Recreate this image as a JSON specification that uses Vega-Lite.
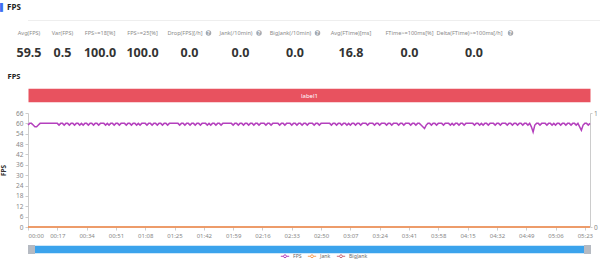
{
"$schema": "https://vega.github.io/schema/vega-lite/v6.json",
"background": "white",
"padding": {"top": 3, "left": 0, "right": 0, "bottom": 0},
"config": {"view": {"stroke": null}, "font": "Noto Sans", "concat": {"spacing": 0}},
"datasets": {
"stats": [
{"label": "Avg(FPS)", "value": 59.5},
{"label": "Var(FPS)", "value": 0.5},
{"label": "FPS>=18[%]", "value": 100.0},
{"label": "FPS>=25[%]", "value": 100.0},
{"label": "Drop(FPS)[/h]", "value": 0.0},
{"label": "Jank(/10min)", "value": 0.0},
{"label": "BigJank(/10min)", "value": 0.0},
{"label": "Avg(FTime)[ms]", "value": 16.8},
{"label": "FTime>=100ms[%]", "value": 0.0},
{"label": "Delta(FTime)>=100ms[/h]", "value": 0.0}
],
"jank": [
{"t": 0, "series": "BigJank", "v": 0},
{"t": 326, "series": "BigJank", "v": 0},
{"t": 0, "series": "Jank", "v": 0},
{"t": 326, "series": "Jank", "v": 0}
],
"fps": [
{"t":0,"fps":59},{"t":1,"fps":60},{"t":2,"fps":60},{"t":3,"fps":59},{"t":4,"fps":58},{"t":5,"fps":58},{"t":6,"fps":59},{"t":7,"fps":60},{"t":8,"fps":60},{"t":9,"fps":60},
{"t":10,"fps":60},{"t":11,"fps":60},{"t":12,"fps":60},{"t":13,"fps":60},{"t":14,"fps":60},{"t":15,"fps":60},{"t":16,"fps":60},{"t":17,"fps":60},{"t":18,"fps":59},{"t":19,"fps":60},
{"t":20,"fps":60},{"t":21,"fps":59},{"t":22,"fps":60},{"t":23,"fps":60},{"t":24,"fps":59},{"t":25,"fps":60},{"t":26,"fps":60},{"t":27,"fps":59},{"t":28,"fps":60},{"t":29,"fps":60},
{"t":30,"fps":59},{"t":31,"fps":60},{"t":32,"fps":59},{"t":33,"fps":60},{"t":34,"fps":60},{"t":35,"fps":59},{"t":36,"fps":60},{"t":37,"fps":60},{"t":38,"fps":59},{"t":39,"fps":60},
{"t":40,"fps":60},{"t":41,"fps":59},{"t":42,"fps":60},{"t":43,"fps":60},{"t":44,"fps":60},{"t":45,"fps":59},{"t":46,"fps":60},{"t":47,"fps":59},{"t":48,"fps":60},{"t":49,"fps":60},
{"t":50,"fps":59},{"t":51,"fps":60},{"t":52,"fps":60},{"t":53,"fps":59},{"t":54,"fps":60},{"t":55,"fps":60},{"t":56,"fps":60},{"t":57,"fps":59},{"t":58,"fps":60},{"t":59,"fps":60},
{"t":60,"fps":59},{"t":61,"fps":60},{"t":62,"fps":60},{"t":63,"fps":59},{"t":64,"fps":60},{"t":65,"fps":59},{"t":66,"fps":60},{"t":67,"fps":60},{"t":68,"fps":60},{"t":69,"fps":59},
{"t":70,"fps":60},{"t":71,"fps":60},{"t":72,"fps":59},{"t":73,"fps":60},{"t":74,"fps":60},{"t":75,"fps":59},{"t":76,"fps":60},{"t":77,"fps":60},{"t":78,"fps":59},{"t":79,"fps":60},
{"t":80,"fps":60},{"t":81,"fps":59},{"t":82,"fps":60},{"t":83,"fps":60},{"t":84,"fps":60},{"t":85,"fps":60},{"t":86,"fps":60},{"t":87,"fps":60},{"t":88,"fps":59},{"t":89,"fps":60},
{"t":90,"fps":60},{"t":91,"fps":59},{"t":92,"fps":60},{"t":93,"fps":60},{"t":94,"fps":59},{"t":95,"fps":60},{"t":96,"fps":60},{"t":97,"fps":59},{"t":98,"fps":60},{"t":99,"fps":60},
{"t":100,"fps":59},{"t":101,"fps":60},{"t":102,"fps":60},{"t":103,"fps":60},{"t":104,"fps":59},{"t":105,"fps":60},{"t":106,"fps":59},{"t":107,"fps":60},{"t":108,"fps":60},{"t":109,"fps":59},
{"t":110,"fps":60},{"t":111,"fps":60},{"t":112,"fps":59},{"t":113,"fps":60},{"t":114,"fps":60},{"t":115,"fps":60},{"t":116,"fps":60},{"t":117,"fps":60},{"t":118,"fps":60},{"t":119,"fps":59},
{"t":120,"fps":60},{"t":121,"fps":60},{"t":122,"fps":59},{"t":123,"fps":60},{"t":124,"fps":60},{"t":125,"fps":59},{"t":126,"fps":60},{"t":127,"fps":60},{"t":128,"fps":59},{"t":129,"fps":60},
{"t":130,"fps":60},{"t":131,"fps":59},{"t":132,"fps":60},{"t":133,"fps":60},{"t":134,"fps":59},{"t":135,"fps":60},{"t":136,"fps":60},{"t":137,"fps":60},{"t":138,"fps":59},{"t":139,"fps":60},
{"t":140,"fps":60},{"t":141,"fps":59},{"t":142,"fps":60},{"t":143,"fps":60},{"t":144,"fps":60},{"t":145,"fps":60},{"t":146,"fps":59},{"t":147,"fps":60},{"t":148,"fps":60},{"t":149,"fps":59},
{"t":150,"fps":60},{"t":151,"fps":60},{"t":152,"fps":60},{"t":153,"fps":59},{"t":154,"fps":60},{"t":155,"fps":60},{"t":156,"fps":59},{"t":157,"fps":60},{"t":158,"fps":60},{"t":159,"fps":59},
{"t":160,"fps":60},{"t":161,"fps":60},{"t":162,"fps":59},{"t":163,"fps":60},{"t":164,"fps":60},{"t":165,"fps":60},{"t":166,"fps":59},{"t":167,"fps":60},{"t":168,"fps":60},{"t":169,"fps":59},
{"t":170,"fps":60},{"t":171,"fps":60},{"t":172,"fps":60},{"t":173,"fps":60},{"t":174,"fps":60},{"t":175,"fps":60},{"t":176,"fps":59},{"t":177,"fps":60},{"t":178,"fps":60},{"t":179,"fps":59},
{"t":180,"fps":60},{"t":181,"fps":60},{"t":182,"fps":59},{"t":183,"fps":60},{"t":184,"fps":60},{"t":185,"fps":59},{"t":186,"fps":60},{"t":187,"fps":59},{"t":188,"fps":60},{"t":189,"fps":60},
{"t":190,"fps":59},{"t":191,"fps":60},{"t":192,"fps":60},{"t":193,"fps":59},{"t":194,"fps":60},{"t":195,"fps":60},{"t":196,"fps":60},{"t":197,"fps":59},{"t":198,"fps":60},{"t":199,"fps":60},
{"t":200,"fps":60},{"t":201,"fps":59},{"t":202,"fps":60},{"t":203,"fps":60},{"t":204,"fps":59},{"t":205,"fps":60},{"t":206,"fps":60},{"t":207,"fps":60},{"t":208,"fps":59},{"t":209,"fps":60},
{"t":210,"fps":60},{"t":211,"fps":59},{"t":212,"fps":60},{"t":213,"fps":60},{"t":214,"fps":60},{"t":215,"fps":59},{"t":216,"fps":60},{"t":217,"fps":60},{"t":218,"fps":59},{"t":219,"fps":60},
{"t":220,"fps":60},{"t":221,"fps":60},{"t":222,"fps":59},{"t":223,"fps":60},{"t":224,"fps":60},{"t":225,"fps":59},{"t":226,"fps":60},{"t":227,"fps":60},{"t":228,"fps":59},{"t":229,"fps":58},
{"t":230,"fps":57},{"t":231,"fps":59},{"t":232,"fps":60},{"t":233,"fps":60},{"t":234,"fps":59},{"t":235,"fps":60},{"t":236,"fps":60},{"t":237,"fps":59},{"t":238,"fps":60},{"t":239,"fps":60},
{"t":240,"fps":60},{"t":241,"fps":59},{"t":242,"fps":60},{"t":243,"fps":60},{"t":244,"fps":60},{"t":245,"fps":59},{"t":246,"fps":60},{"t":247,"fps":59},{"t":248,"fps":60},{"t":249,"fps":60},
{"t":250,"fps":59},{"t":251,"fps":60},{"t":252,"fps":60},{"t":253,"fps":59},{"t":254,"fps":60},{"t":255,"fps":60},{"t":256,"fps":60},{"t":257,"fps":60},{"t":258,"fps":60},{"t":259,"fps":59},
{"t":260,"fps":60},{"t":261,"fps":60},{"t":262,"fps":59},{"t":263,"fps":60},{"t":264,"fps":59},{"t":265,"fps":60},{"t":266,"fps":60},{"t":267,"fps":59},{"t":268,"fps":60},{"t":269,"fps":60},
{"t":270,"fps":60},{"t":271,"fps":59},{"t":272,"fps":60},{"t":273,"fps":60},{"t":274,"fps":59},{"t":275,"fps":60},{"t":276,"fps":60},{"t":277,"fps":60},{"t":278,"fps":59},{"t":279,"fps":60},
{"t":280,"fps":60},{"t":281,"fps":59},{"t":282,"fps":60},{"t":283,"fps":60},{"t":284,"fps":59},{"t":285,"fps":60},{"t":286,"fps":60},{"t":287,"fps":59},{"t":288,"fps":60},{"t":289,"fps":60},
{"t":290,"fps":59},{"t":291,"fps":60},{"t":292,"fps":58},{"t":293,"fps":55},{"t":294,"fps":59},{"t":295,"fps":60},{"t":296,"fps":60},{"t":297,"fps":59},{"t":298,"fps":60},{"t":299,"fps":60},
{"t":300,"fps":60},{"t":301,"fps":59},{"t":302,"fps":60},{"t":303,"fps":60},{"t":304,"fps":59},{"t":305,"fps":60},{"t":306,"fps":59},{"t":307,"fps":60},{"t":308,"fps":60},{"t":309,"fps":59},
{"t":310,"fps":60},{"t":311,"fps":60},{"t":312,"fps":59},{"t":313,"fps":60},{"t":314,"fps":60},{"t":315,"fps":59},{"t":316,"fps":60},{"t":317,"fps":60},{"t":318,"fps":59},{"t":319,"fps":60},
{"t":320,"fps":58},{"t":321,"fps":56},{"t":322,"fps":59},{"t":323,"fps":60},{"t":324,"fps":60},{"t":325,"fps":59},{"t":326,"fps":60}
]
},
"vconcat": [
{"width": 2, "height": 17, "data": {"values": [{"name": "FPS"}]},
"layer": [
{"mark": {"type": "text", "text": "▌", "font": "DejaVu Sans", "fontSize": 7.5, "color": "#3d6ef2", "dx": -26, "dy": -4}, "encoding": {}},
{"mark": {"type": "text", "fontSize": 8, "fontWeight": "bold", "color": "#222", "dx": -15, "dy": -3.5}, "encoding": {"text": {"field": "name"}}}
]},
{"width": 573, "height": 1, "data": {"values": [{"name": "sep"}]}, "mark": {"type": "rect", "color": "#eeeeee"}, "encoding": {}},
{
"bounds": "flush",
"hconcat": [
{"width": 32, "height": 51, "data": {"name": "stats"}, "transform": [{"filter": "datum.label == 'Avg(FPS)'"}],
"layer": [
{"mark": {"type": "text", "fontSize": 5.6, "color": "#8a8a8a", "dy": -13.5, "dx": -15}, "encoding": {"text": {"field": "label"}}},
{"mark": {"type": "text", "fontSize": 12.5, "fontWeight": "bold", "color": "#333", "dy": 6.5, "dx": -15}, "encoding": {"text": {"field": "value", "format": ".1f"}}}
]},
{"width": 35, "height": 51, "data": {"name": "stats"}, "transform": [{"filter": "datum.label == 'Var(FPS)'"}],
"layer": [
{"mark": {"type": "text", "fontSize": 5.6, "color": "#8a8a8a", "dy": -13.5, "dx": -15}, "encoding": {"text": {"field": "label"}}},
{"mark": {"type": "text", "fontSize": 12.5, "fontWeight": "bold", "color": "#333", "dy": 6.5, "dx": -15}, "encoding": {"text": {"field": "value", "format": ".1f"}}}
]},
{"width": 40, "height": 51, "data": {"name": "stats"}, "transform": [{"filter": "datum.label == 'FPS>=18[%]'"}],
"layer": [
{"mark": {"type": "text", "fontSize": 5.6, "color": "#8a8a8a", "dy": -13.5, "dx": -15}, "encoding": {"text": {"field": "label"}}},
{"mark": {"type": "text", "fontSize": 12.5, "fontWeight": "bold", "color": "#333", "dy": 6.5, "dx": -15}, "encoding": {"text": {"field": "value", "format": ".1f"}}}
]},
{"width": 45, "height": 51, "data": {"name": "stats"}, "transform": [{"filter": "datum.label == 'FPS>=25[%]'"}],
"layer": [
{"mark": {"type": "text", "fontSize": 5.6, "color": "#8a8a8a", "dy": -13.5, "dx": -15}, "encoding": {"text": {"field": "label"}}},
{"mark": {"type": "text", "fontSize": 12.5, "fontWeight": "bold", "color": "#333", "dy": 6.5, "dx": -15}, "encoding": {"text": {"field": "value", "format": ".1f"}}}
]},
{"width": 49, "height": 51, "data": {"name": "stats"}, "transform": [{"filter": "datum.label == 'Drop(FPS)[/h]'"}],
"layer": [
{"mark": {"type": "text", "fontSize": 5.6, "color": "#8a8a8a", "dy": -13.5, "dx": -19.5}, "encoding": {"text": {"field": "label"}}},
{"mark": {"type": "point", "filled": true, "shape": "circle", "size": 30, "opacity": 1, "color": "#a3a8b0", "yOffset": -13.5, "xOffset": 4}, "encoding": {}},
{"mark": {"type": "text", "text": "?", "fontSize": 5, "fontWeight": "bold", "color": "white", "dy": -13.5, "dx": 4}, "encoding": {}},
{"mark": {"type": "text", "fontSize": 12.5, "fontWeight": "bold", "color": "#333", "dy": 6.5, "dx": -15}, "encoding": {"text": {"field": "value", "format": ".1f"}}}
]},
{"width": 53, "height": 51, "data": {"name": "stats"}, "transform": [{"filter": "datum.label == 'Jank(/10min)'"}],
"layer": [
{"mark": {"type": "text", "fontSize": 5.6, "color": "#8a8a8a", "dy": -13.5, "dx": -19.5}, "encoding": {"text": {"field": "label"}}},
{"mark": {"type": "point", "filled": true, "shape": "circle", "size": 30, "opacity": 1, "color": "#a3a8b0", "yOffset": -13.5, "xOffset": 3.5}, "encoding": {}},
{"mark": {"type": "text", "text": "?", "fontSize": 5, "fontWeight": "bold", "color": "white", "dy": -13.5, "dx": 3.5}, "encoding": {}},
{"mark": {"type": "text", "fontSize": 12.5, "fontWeight": "bold", "color": "#333", "dy": 6.5, "dx": -15}, "encoding": {"text": {"field": "value", "format": ".1f"}}}
]},
{"width": 56, "height": 51, "data": {"name": "stats"}, "transform": [{"filter": "datum.label == 'BigJank(/10min)'"}],
"layer": [
{"mark": {"type": "text", "fontSize": 5.6, "color": "#8a8a8a", "dy": -13.5, "dx": -19.5}, "encoding": {"text": {"field": "label"}}},
{"mark": {"type": "point", "filled": true, "shape": "circle", "size": 30, "opacity": 1, "color": "#a3a8b0", "yOffset": -13.5, "xOffset": 7.5}, "encoding": {}},
{"mark": {"type": "text", "text": "?", "fontSize": 5, "fontWeight": "bold", "color": "white", "dy": -13.5, "dx": 7.5}, "encoding": {}},
{"mark": {"type": "text", "fontSize": 12.5, "fontWeight": "bold", "color": "#333", "dy": 6.5, "dx": -15}, "encoding": {"text": {"field": "value", "format": ".1f"}}}
]},
{"width": 56, "height": 51, "data": {"name": "stats"}, "transform": [{"filter": "datum.label == 'Avg(FTime)[ms]'"}],
"layer": [
{"mark": {"type": "text", "fontSize": 5.6, "color": "#8a8a8a", "dy": -13.5, "dx": -15}, "encoding": {"text": {"field": "label"}}},
{"mark": {"type": "text", "fontSize": 12.5, "fontWeight": "bold", "color": "#333", "dy": 6.5, "dx": -15}, "encoding": {"text": {"field": "value", "format": ".1f"}}}
]},
{"width": 61, "height": 51, "data": {"name": "stats"}, "transform": [{"filter": "datum.label == 'FTime>=100ms[%]'"}],
"layer": [
{"mark": {"type": "text", "fontSize": 5.6, "color": "#8a8a8a", "dy": -13.5, "dx": -15}, "encoding": {"text": {"field": "label"}}},
{"mark": {"type": "text", "fontSize": 12.5, "fontWeight": "bold", "color": "#333", "dy": 6.5, "dx": -15}, "encoding": {"text": {"field": "value", "format": ".1f"}}}
]},
{"width": 68, "height": 51, "data": {"name": "stats"}, "transform": [{"filter": "datum.label == 'Delta(FTime)>=100ms[/h]'"}],
"layer": [
{"mark": {"type": "text", "fontSize": 5.6, "color": "#8a8a8a", "dy": -13.5, "dx": -19.5}, "encoding": {"text": {"field": "label"}}},
{"mark": {"type": "point", "filled": true, "shape": "circle", "size": 30, "opacity": 1, "color": "#a3a8b0", "yOffset": -13.5, "xOffset": 21.5}, "encoding": {}},
{"mark": {"type": "text", "text": "?", "fontSize": 5, "fontWeight": "bold", "color": "white", "dy": -13.5, "dx": 21.5}, "encoding": {}},
{"mark": {"type": "text", "fontSize": 12.5, "fontWeight": "bold", "color": "#333", "dy": 6.5, "dx": -15}, "encoding": {"text": {"field": "value", "format": ".1f"}}}
]}
],
"spacing": 0
},
{
"width": 562,
"height": 114,
"title": {"text": "FPS", "anchor": "start", "fontSize": 7.5, "fontWeight": "bold", "color": "#222", "offset": 12, "dx": 7},
"resolve": {"scale": {"y": "independent"}, "axis": {"x": "independent", "y": "independent"}},
"layer": [
{
"data": {"name": "fps"},
"mark": {"type": "line", "strokeWidth": 1.5},
"encoding": {
"x": {"field": "t", "type": "quantitative", "scale": {"domain": [0, 326], "nice": false, "zero": false},
"axis": {"orient": "bottom", "values": [0,17,34,51,68,85,102,119,136,153,170,187,204,221,238,255,272,289,306,323], "labelExpr": "utcFormat(datum.value*1000, '%M:%S')", "domain": false, "grid": false, "tickColor": "#cccccc", "tickSize": 3, "labelFontSize": 6, "labelColor": "#888888", "labelPadding": 2, "labelFlush": true, "labelOverlap": false, "title": null}},
"y": {"field": "fps", "type": "quantitative", "scale": {"domain": [0, 66], "nice": false},
"axis": {"orient": "left", "values": [0,6,12,18,24,30,36,42,48,54,60,66], "grid": false, "domainColor": "#cccccc", "tickColor": "#cccccc", "tickSize": 3, "labelFontSize": 6.5, "labelColor": "#888888", "labelPadding": 2, "title": "FPS", "titleFontSize": 6.5, "titleFontWeight": "bold", "titleColor": "#333333", "titlePadding": 9}},
"color": {"datum": "FPS", "type": "nominal", "scale": {"domain": ["FPS", "Jank", "BigJank"], "range": ["#b440bd", "#f4a05a", "#c86a78"]}}
}
},
{
"data": {"name": "jank"},
"mark": {"type": "line", "strokeWidth": 1.5},
"encoding": {
"x": {"field": "t", "type": "quantitative", "scale": {"domain": [0, 326], "nice": false, "zero": false},
"axis": {"orient": "top", "offset": 18, "domainWidth": 13.5, "domainColor": "#e8525f", "ticks": false, "labels": false, "grid": false, "title": "label1", "titleColor": "white", "titleFontSize": 6, "titleFontWeight": "normal", "titleBaseline": "middle", "titleY": 0}},
"y": {"field": "v", "type": "quantitative", "scale": {"domain": [0, 1], "nice": false},
"axis": {"orient": "right", "values": [0, 1], "format": "d", "grid": false, "domainColor": "#cccccc", "tickColor": "#cccccc", "tickSize": 2, "labelFontSize": 6.5, "labelColor": "#888888", "labelPadding": 1.5, "title": null}},
"color": {"field": "series", "type": "nominal", "scale": {"domain": ["FPS", "Jank", "BigJank"], "range": ["#b440bd", "#f4a05a", "#c86a78"]},
"legend": {"orient": "none", "legendX": 252, "legendY": 248, "direction": "horizontal", "title": null, "labelFontSize": 5.2, "labelColor": "#666666", "symbolType": "M-1,0H-0.35M0.35,0H1M0.35,0A0.35,0.35,0,1,1,-0.35,0A0.35,0.35,0,1,1,0.35,0", "symbolSize": 70, "symbolStrokeWidth": 1, "symbolFillColor": "white", "columnPadding": 3, "labelOffset": 3}}
}
},
{
"data": {"name": "jank"},
"mark": {"type": "line", "opacity": 0},
"encoding": {
"x": {"field": "t", "type": "quantitative", "scale": {"domain": [0, 326], "nice": false, "zero": false},
"axis": {"orient": "bottom", "offset": 22, "domainWidth": 7.5, "domainColor": "#3ba3ec", "ticks": false, "labels": false, "grid": false, "title": null}},
"y": {"field": "v", "type": "quantitative", "scale": {"domain": [0, 1]}, "axis": null}
}
},
{
"data": {"name": "jank"},
"mark": {"type": "line", "opacity": 0},
"encoding": {
"x": {"field": "t", "type": "quantitative", "scale": {"domain": [0, 326], "nice": false, "zero": false},
"axis": {"orient": "bottom", "offset": 17.5, "domain": false, "ticks": true, "values": [2, 324.5], "tickSize": 9, "tickWidth": 7, "tickColor": "#b5bac2", "labels": false, "grid": false, "title": null}},
"y": {"field": "v", "type": "quantitative", "scale": {"domain": [0, 1]}, "axis": null}
}
}
]
}
]
}
